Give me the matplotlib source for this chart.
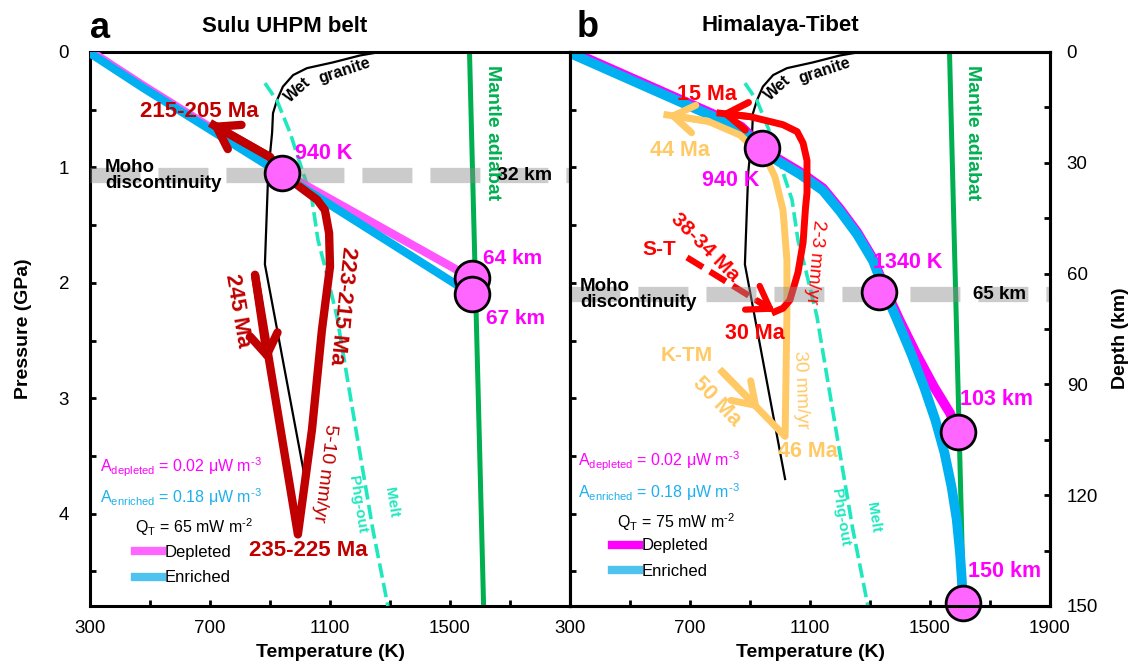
import matplotlib.pyplot as plt
from matplotlib.lines import Line2D

plt.rcParams['font.family'] = ['Liberation Sans', 'DejaVu Sans']
plt.rcParams['mathtext.fontset'] = 'custom'
plt.rcParams['mathtext.rm'] = 'Liberation Sans'
plt.rcParams['mathtext.bf'] = 'Liberation Sans:bold'
plt.rcParams['mathtext.it'] = 'Liberation Sans:italic'

# ---- reference curves, temperature (K) vs pressure (GPa) ----
granite_T = [1267, 1200, 1110, 1023, 977, 943, 923, 910, 907, 894, 883, 1017]
granite_P = [0.00, 0.03, 0.09, 0.14, 0.20, 0.30, 0.42, 0.53, 0.70, 1.05, 1.84, 3.70]

melt_T = [883, 923, 967, 993, 1040, 1060, 1083, 1123, 1185, 1243, 1293]
melt_P = [0.27, 0.42, 0.70, 0.91, 1.28, 1.63, 1.86, 2.29, 3.25, 4.14, 4.80]

adiabat_T = [1565, 1612]
adiabat_P = [0.0, 4.8]

# ---- panel a: Sulu ----
sulu_dep_T = [300, 477, 940, 1573]
sulu_dep_P = [-0.01, 0.29, 1.04, 1.96]
sulu_enr_T = [300, 477, 940, 1573]
sulu_enr_P = [0.01, 0.31, 1.06, 2.10]
sulu_circ_T = [940, 1573, 1573]
sulu_circ_P = [1.05, 1.96, 2.10]
sulu_moho_P = 1.065

sulu_path_T = [850, 993, 1040, 1073, 1100, 1097, 1083, 1057, 1000, 940, 900, 700]
sulu_path_P = [1.93, 4.18, 3.27, 2.41, 1.86, 1.57, 1.37, 1.28, 1.17, 1.05, 0.91, 0.615]
sulu_chevron = (893, 2.69)

# ---- panel b: Himalaya-Tibet ----
him_dep_T = [300, 870, 940, 977, 1067, 1143, 1200, 1257, 1310, 1352, 1398, 1455, 1513, 1567, 1593]
him_dep_P = [-0.01, 0.645, 0.82, 0.90, 1.04, 1.18, 1.36, 1.56, 1.79, 2.06, 2.32, 2.62, 2.90, 3.13, 3.29]
him_enr_T = [300, 870, 940, 977, 1067, 1143, 1200, 1257, 1310, 1350, 1390, 1437, 1480, 1518,
             1548, 1572, 1589, 1600, 1606, 1610]
him_enr_P = [0.01, 0.665, 0.84, 0.92, 1.06, 1.20, 1.38, 1.58, 1.81, 2.08, 2.32, 2.61, 2.90, 3.19,
             3.47, 3.77, 4.05, 4.34, 4.57, 4.77]
him_circ_T = [940, 1330, 1593, 1610]
him_circ_P = [0.83, 2.08, 3.29, 4.77]
him_moho_P = 2.095

st_T = [690, 983]
st_P = [1.78, 2.25]
red_T = [983, 1010, 1033, 1060, 1077, 1085, 1090, 1090, 1077, 1057, 1010, 900, 800]
red_P = [2.25, 2.22, 2.15, 1.91, 1.65, 1.35, 1.22, 0.94, 0.79, 0.69, 0.63, 0.56, 0.53]
ktm_T = [807, 1017, 1023, 1023, 1010, 983, 957, 867, 760, 623]
ktm_P = [2.77, 3.33, 2.29, 1.80, 1.37, 1.08, 0.94, 0.72, 0.60, 0.545]
ktm_chevron = (933, 3.10)

DARKRED = '#c00000'
RED = '#ff0000'
ORANGE = '#ffc966'
GREEN = '#00b050'
AQUA = '#1fe8bf'
BLUE = '#00b0f0'
MAG = '#ff00ff'
GREY = '#8c8c8c'
TICK_FS = 13.5


def arrow(ax, start, end, color, lw, z=6):
    ax.annotate('', xy=end, xytext=start, zorder=z,
                arrowprops=dict(arrowstyle='->,head_length=0.75,head_width=0.5',
                                color=color, lw=lw, shrinkA=0, shrinkB=0,
                                mutation_scale=20))


def base_panel(ax, xticks):
    ax.set_xlim(300, 1900)
    ax.set_ylim(4.8, 0)
    ax.set_xticks(xticks)
    ax.set_xticks([500, 900, 1300, 1700], minor=True)
    ax.set_yticks([0, 1, 2, 3, 4])
    ax.set_yticks([0.5, 1.5, 2.5, 3.5, 4.5], minor=True)
    ax.tick_params(which='both', direction='in', length=4, width=2, labelsize=TICK_FS)
    ax.tick_params(axis='x', which='both', pad=10)
    ax.tick_params(axis='y', which='both', pad=15)
    for s in ax.spines.values():
        s.set_linewidth(2.2)
    ax.set_xlabel('Temperature (K)', fontsize=14, fontweight='bold')
    ax.xaxis.set_label_coords(0.5, -0.068)

    ax.plot(granite_T, granite_P, color='k', lw=1.6, zorder=3)
    ax.plot(melt_T, melt_P, color=AQUA, lw=2.6, dashes=(4.0, 1.5), zorder=3)
    ax.plot(adiabat_T, adiabat_P, color=GREEN, lw=3.6, zorder=2)


def geotherm(ax, dT, dP, eT, eP, cT, cP, dep_color, lw):
    ax.plot(dT, dP, color=dep_color, lw=lw, solid_capstyle='butt', zorder=4)
    ax.plot(eT, eP, color=BLUE, lw=lw, solid_capstyle='butt', zorder=4.5)
    ax.plot(cT, cP, 'o', ms=25, mfc='#ff66ff', mec='k', mew=2, zorder=9, clip_on=False)


def moho(ax, p):
    ax.plot([300, 1900], [p, p], color=GREY, alpha=0.45, lw=11,
            dashes=(3.27, 1.18), zorder=8)


def notes(ax, x1, y1, x2, y2, qt, dep_legend_color, loc):
    ax.text(x1, y1, r'A$_{\mathregular{depleted}}$ = 0.02 μW m$^{\mathregular{‐3}}$',
            color=MAG, fontsize=11.5, ha='left', va='center')
    ax.text(x1, y1 + 0.26, r'A$_{\mathregular{enriched}}$ = 0.18 μW m$^{\mathregular{‐3}}$',
            color='#1eb0ec', fontsize=11.5, ha='left', va='center')
    ax.text(x2, y2, r'Q$_{\mathregular{T}}$ = %d mW m$^{\mathregular{‐2}}$' % qt,
            color='k', fontsize=11.5, ha='left', va='center')
    handles = [Line2D([], [], color=dep_legend_color, lw=6),
               Line2D([], [], color='#4fc3f0', lw=6)]
    ax.legend(handles, ['Depleted', 'Enriched'], loc='upper left', bbox_to_anchor=loc,
              frameon=False, fontsize=12, handlelength=1.6, handletextpad=0.2,
              labelspacing=0.62, borderpad=0, borderaxespad=0)


fig = plt.figure(figsize=(11.33, 6.65), dpi=100)
W, H = 1133, 665
axa = fig.add_axes([90 / W, 59 / H, 480 / W, 554 / H])
axb = fig.add_axes([570 / W, 59 / H, 480 / W, 554 / H])

bold = dict(fontweight='bold', ha='center', va='center', zorder=10)
thin = dict(ha='center', va='center', rotation_mode='anchor', zorder=10)

# ================= panel a =================
base_panel(axa, [300, 700, 1100, 1500])
axa.set_ylabel('Pressure (GPa)', fontsize=14, fontweight='bold')
axa.yaxis.set_label_coords(-0.12, 0.5)
geotherm(axa, sulu_dep_T, sulu_dep_P, sulu_enr_T, sulu_enr_P,
         sulu_circ_T, sulu_circ_P, '#ff55ff', 6)
moho(axa, sulu_moho_P)

axa.plot(sulu_path_T, sulu_path_P, color=DARKRED, lw=6, zorder=6,
         solid_joinstyle='round', solid_capstyle='butt')
arrow(axa, (sulu_path_T[0], sulu_path_P[0]), sulu_chevron, DARKRED, 6)
arrow(axa, (sulu_path_T[-2], sulu_path_P[-2]), (sulu_path_T[-1], sulu_path_P[-1]), DARKRED, 6)

axa.text(663, 0.515, '215-205 Ma', color=DARKRED, fontsize=16, **bold)
axa.text(793, 2.24, '245 Ma', color=DARKRED, fontsize=16, rotation=-80.5,
         rotation_mode='anchor', **bold)
axa.text(1140, 2.20, '223-215 Ma', color=DARKRED, fontsize=16, rotation=-96,
         rotation_mode='anchor', **bold)
axa.text(1080, 3.65, '5-10 mm/yr', color=DARKRED, fontsize=14, rotation=-97, **thin)
axa.text(1027, 4.32, '235-225 Ma', color=DARKRED, fontsize=16, **bold)
axa.text(1080, 0.88, '940 K', color=MAG, fontsize=15.5, **bold)
axa.text(1710, 1.79, '64 km', color=MAG, fontsize=15, **bold)
axa.text(1717, 2.31, '67 km', color=MAG, fontsize=15, **bold)
axa.text(1750, 1.07, '32 km', color='k', fontsize=14, **bold)
axa.text(350, 1.07, 'Moho\ndiscontinuity', color='k', fontsize=13.5, fontweight='bold',
         ha='left', va='center', linespacing=0.95, zorder=10)
axa.text(1640, 0.70, 'Mantle adiabat', color=GREEN, fontsize=14, rotation=-90, **bold)
axa.text(993, 0.33, 'Wet', color='k', fontsize=11.5, rotation=42, **bold)
axa.text(1150, 0.16, 'granite', color='k', fontsize=11.5, rotation=18, **bold)
axa.text(1193, 3.92, 'Phg-out', color=AQUA, fontsize=11, rotation=-81, **bold)
axa.text(1303, 3.90, 'Melt', color=AQUA, fontsize=11, rotation=-81, **bold)
notes(axa, 333, 3.60, 450, 4.12, 65, '#ff66ff', (0.094, 0.110))

# ================= panel b =================
base_panel(axb, [300, 700, 1100, 1500, 1900])
axb.tick_params(axis='y', which='both', left=False, labelleft=False)
geotherm(axb, him_dep_T, him_dep_P, him_enr_T, him_enr_P,
         him_circ_T, him_circ_P, MAG, 7)
moho(axb, him_moho_P)

axb.plot(ktm_T, ktm_P, color=ORANGE, lw=5, zorder=5, solid_joinstyle='round')
arrow(axb, (ktm_T[0], ktm_P[0]), ktm_chevron, ORANGE, 5, z=5)
arrow(axb, (ktm_T[-2], ktm_P[-2]), (ktm_T[-1], ktm_P[-1]), ORANGE, 5, z=5)

axb.plot(red_T, red_P, color=RED, lw=5, zorder=6, solid_joinstyle='round')
arrow(axb, (red_T[-2], red_P[-2]), (red_T[-1], red_P[-1]), RED, 5)
axb.plot(st_T, st_P, color=RED, lw=4.5, dashes=(3.0, 1.3), zorder=6)
arrow(axb, (st_T[0] + 0.8 * (st_T[1] - st_T[0]), st_P[0] + 0.8 * (st_P[1] - st_P[0])),
      (st_T[1], st_P[1]), RED, 4.5)

axb.text(757, 0.37, '15 Ma', color=RED, fontsize=15.5, **bold)
axb.text(667, 0.85, '44 Ma', color=ORANGE, fontsize=15.5, **bold)
axb.text(837, 1.11, '940 K', color=MAG, fontsize=15.5, **bold)
axb.text(750, 1.69, '38-34 Ma', color=RED, fontsize=15, rotation=-45,
         rotation_mode='anchor', **bold)
axb.text(597, 1.71, 'S-T', color=RED, fontsize=15, **bold)
axb.text(1117, 1.82, '2-3 mm/yr', color=RED, fontsize=13.5, rotation=-95, **thin)
axb.text(917, 2.44, '30 Ma', color=RED, fontsize=15.5, **bold)
axb.text(333, 2.10, 'Moho\ndiscontinuity', color='k', fontsize=13.5, fontweight='bold',
         ha='left', va='center', linespacing=0.95, zorder=10)
axb.text(1733, 2.10, '65 km', color='k', fontsize=13.5, **bold)
axb.text(1427, 1.82, '1340 K', color=MAG, fontsize=15.5, **bold)
axb.text(1643, 0.70, 'Mantle adiabat', color=GREEN, fontsize=14, rotation=-90, **bold)
axb.text(690, 2.63, 'K-TM', color=ORANGE, fontsize=15, **bold)
axb.text(790, 3.03, '50 Ma', color=ORANGE, fontsize=15.5, rotation=-46,
         rotation_mode='anchor', **bold)
axb.text(1070, 2.93, '30 mm/yr', color=ORANGE, fontsize=13.5, rotation=-88, **thin)
axb.text(1093, 3.46, '46 Ma', color=ORANGE, fontsize=15.5, **bold)
axb.text(1723, 3.01, '103 km', color=MAG, fontsize=15.5, **bold)
axb.text(1747, 4.50, '150 km', color=MAG, fontsize=15.5, **bold)
axb.text(993, 0.31, 'Wet', color='k', fontsize=11.5, rotation=42, **bold)
axb.text(1150, 0.16, 'granite', color='k', fontsize=11.5, rotation=18, **bold)
axb.text(1200, 4.03, 'Phg-out', color=AQUA, fontsize=11, rotation=-81, **bold)
axb.text(1310, 4.03, 'Melt', color=AQUA, fontsize=11, rotation=-81, **bold)
notes(axb, 327, 3.55, 457, 4.07, 75, MAG, (0.0875, 0.122))

# depth axis on the right
axd = axb.twinx()
axd.set_ylim(150, 0)
axd.set_yticks([0, 30, 60, 90, 120, 150])
axd.set_yticks([15, 45, 75, 105, 135], minor=True)
axd.tick_params(which='both', direction='in', length=4, width=2, labelsize=TICK_FS, pad=12)
for s in axd.spines.values():
    s.set_linewidth(2.2)
axd.set_ylabel('Depth (km)', fontsize=14, fontweight='bold')
axd.yaxis.set_label_coords(1.129, 0.484)

fig.text(100 / W, 1 - 38 / H, 'a', fontsize=26, fontweight='bold', ha='center', va='baseline')
fig.text(588 / W, 1 - 37 / H, 'b', fontsize=26, fontweight='bold', ha='center', va='baseline')
fig.text(285 / W, 1 - 32 / H, 'Sulu UHPM belt', fontsize=16, fontweight='bold',
         ha='center', va='baseline')
fig.text(780 / W, 1 - 31 / H, 'Himalaya-Tibet', fontsize=16, fontweight='bold',
         ha='center', va='baseline')

fig.savefig('out.png', dpi=100)
